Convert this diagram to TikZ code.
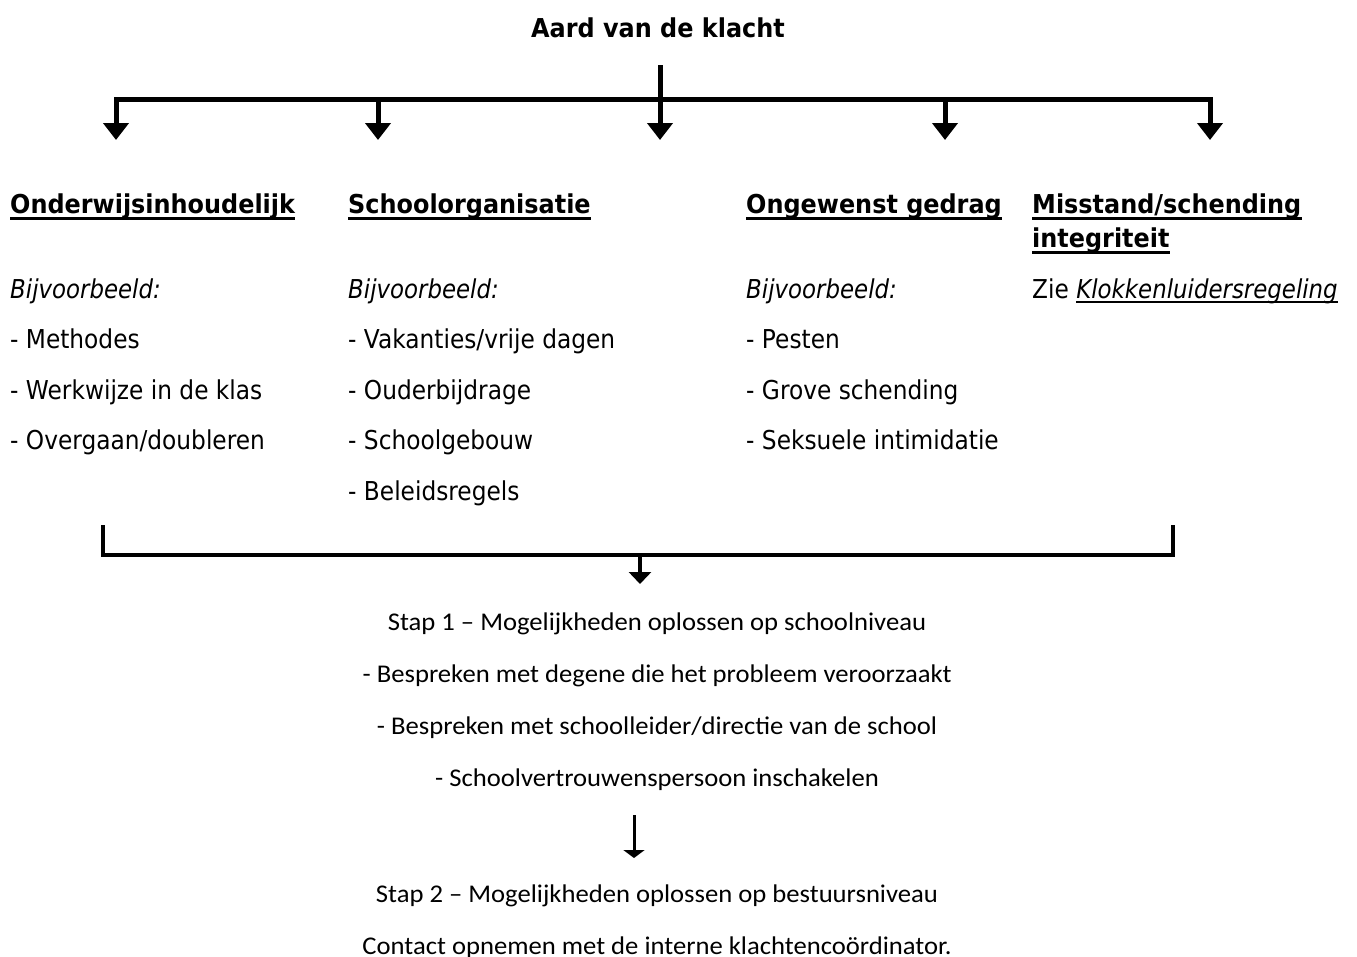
\documentclass[tikz,border=0pt]{standalone}
\usepackage{fontspec}
\setmainfont{DejaVu Sans}
\newfontfamily\vreg[FakeStretch=0.895]{DejaVu Sans}
\newfontfamily\vital[FakeStretch=0.88]{DejaVu Sans}
\newfontfamily\vbold[FakeStretch=0.92]{DejaVu Sans}
\newfontfamily\calfont[FakeStretch=1.045]{Carlito}
\usetikzlibrary{arrows.meta}
\tikzset{
  head/.style={anchor=base west, inner sep=0pt, font=\vbold\fontsize{26}{30}\selectfont\bfseries},
  item/.style={anchor=base west, inner sep=0pt, font=\vreg\fontsize{26}{30}\selectfont},
  ex/.style={anchor=base west, inner sep=0pt, font=\vital\fontsize{26}{30}\selectfont\itshape},
  stepline/.style={anchor=base, inner sep=0pt, font=\calfont\fontsize{25.5}{30}\selectfont},
  ul/.style={line width=2.8pt},
  ulthin/.style={line width=1.8pt},
  topdrop/.style={line width=5pt, -{Triangle[width=25pt,length=17pt]}},
  topdrops/.style={line width=5pt, line join=miter, {Triangle[width=25pt,length=17pt]}-{Triangle[width=25pt,length=17pt]}},
  lowbus/.style={line width=4pt, line join=miter},
  lowdrop/.style={line width=4pt, -{Triangle[width=22pt,length=12pt]}},
  thinarrow/.style={line width=3pt, -{Triangle[width=21pt,length=8pt]}}
}
\begin{document}
\begin{tikzpicture}[x=1pt,y=-1pt]
\useasboundingbox[fill=white] (0,0) rectangle (1357,956);

% title
\node[anchor=base, inner sep=0pt, font=\vbold\fontsize{26}{30}\selectfont\bfseries] (title) at (658,37) {Aard van de klacht};

% top bus coordinates
\coordinate (stemtop) at (660,65);
\coordinate (c1) at (116,99);
\coordinate (c5) at (1210,99);
\coordinate (c2) at (378,99);
\coordinate (c4) at (945,99);
\coordinate (t1) at (116,140);
\coordinate (t2) at (378,140);
\coordinate (t3) at (660,140);
\coordinate (t4) at (945,140);
\coordinate (t5) at (1210,140);

\draw[topdrops] (t1) -- (c1) -- (c5) -- (t5);
\draw[topdrop] (c2) -- (t2);
\draw[topdrop] (c4) -- (t4);
\draw[topdrop] (stemtop) -- (t3);

% headings
\node[head] (h1) at (10,213) {Onderwijsinhoudelijk};
\node[head] (h2) at (348,213) {Schoolorganisatie};
\node[head] (h3) at (746,213) {Ongewenst gedrag};
\node[head] (h4) at (1032,213) {Misstand/schending};
\node[head] (h4b) at (1032,247) {integriteit};
\foreach \h in {h1,h2,h3,h4,h4b}
  \draw[ul] ([yshift=-5.5pt]\h.base west) -- ([yshift=-5.5pt]\h.base east);

% examples
\node[ex] (b1) at (10,298) {Bijvoorbeeld:};
\node[ex] (b2) at (348,298) {Bijvoorbeeld:};
\node[ex] (b3) at (746,298) {Bijvoorbeeld:};
\node[item] (z4) at (1032,298) {Zie};
\node[ex] (klok) at ([xshift=7pt]z4.base east) {Klokkenluidersregeling};
\draw[ulthin] ([yshift=-4pt]klok.base west) -- ([yshift=-4pt]klok.base east);

\node[item] (i11) at (10,348) {- Methodes};
\node[item] (i12) at (10,399) {- Werkwijze in de klas};
\node[item] (i13) at (10,449) {- Overgaan/doubleren};

\node[item] (i21) at (348,348) {- Vakanties/vrije dagen};
\node[item] (i22) at (348,399) {- Ouderbijdrage};
\node[item] (i23) at (348,449) {- Schoolgebouw};
\node[item] (i24) at (348,500) {- Beleidsregels};

\node[item] (i31) at (746,348) {- Pesten};
\node[item] (i32) at (746,399) {- Grove schending};
\node[item] (i33) at (746,449) {- Seksuele intimidatie};

% bottom bracket
\coordinate (bl) at (103,525);
\coordinate (blc) at (103,555);
\coordinate (brc) at (1173,555);
\coordinate (br) at (1173,525);
\coordinate (bm) at (640,555);
\draw[lowbus] (bl) -- (blc) -- (brc) -- (br);

% steps
\node[stepline] (s1) at (657,630) {Stap 1 – Mogelijkheden oplossen op schoolniveau};
\node[stepline] (s1a) at (657,682) {- Bespreken met degene die het probleem veroorzaakt};
\node[stepline] (s1b) at (657,734) {- Bespreken met schoolleider/directie van de school};
\node[stepline] (s1c) at (657,786) {- Schoolvertrouwenspersoon inschakelen};
\node[stepline] (s2) at (657,902) {Stap 2 – Mogelijkheden oplossen op bestuursniveau};
\node[stepline] (s2a) at (657,954) {Contact opnemen met de interne klachtencoördinator.};

\coordinate (bmt) at (640,584);
\draw[lowdrop] (bm) -- (bmt);
\coordinate (at) at (634,815);
\coordinate (ab) at (634,858);
\draw[thinarrow] (at) -- (ab);
\end{tikzpicture}
\end{document}
